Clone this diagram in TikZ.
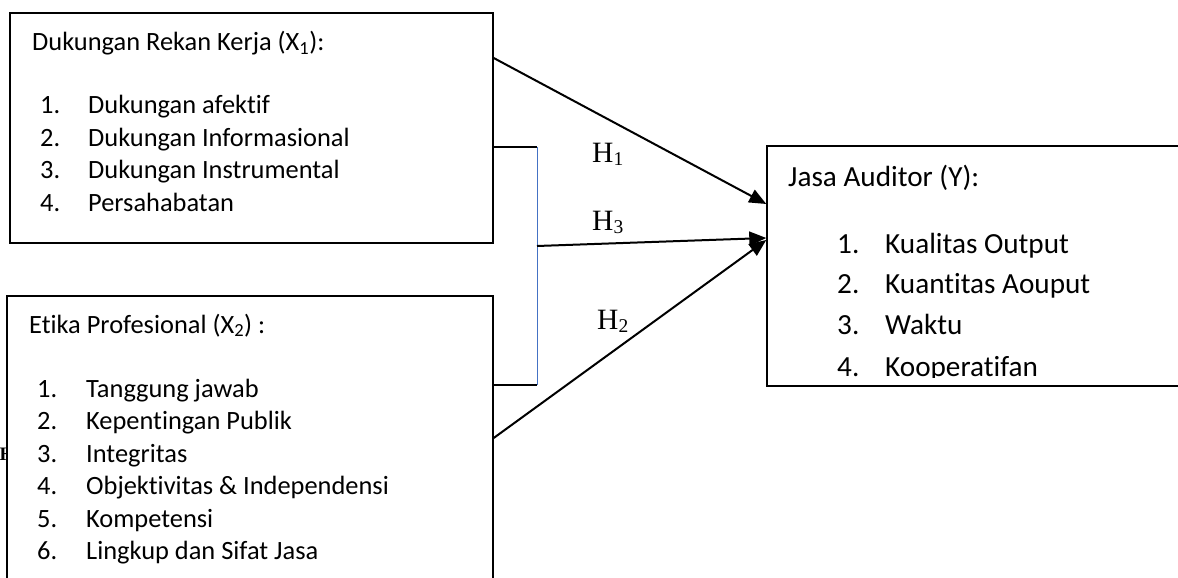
\documentclass[tikz,border=0pt]{standalone}
\usepackage{fontspec}
\setmainfont[Ligatures=NoCommon]{Carlito}
\newfontfamily\timesf{Liberation Serif}
\usetikzlibrary{arrows.meta}
\definecolor{wordblue}{RGB}{68,114,196}
\newcommand{\lsize}{\fontsize{26.4}{31}\selectfont}
\newcommand{\rsize}{\fontsize{29.2}{34}\selectfont}
\newcommand{\hlab}[1]{\timesf\fontsize{29.5}{30}\selectfont H\raisebox{-3.5pt}{\fontsize{19.5}{19}\selectfont #1}}
\tikzset{
  boxst/.style={draw=black, line width=1.4pt, fill=white, rectangle, inner sep=0pt},
  ltxt/.style={anchor=base west, inner sep=0pt, font=\lsize},
  rtxt/.style={anchor=base west, inner sep=0pt, font=\rsize},
  htxt/.style={anchor=base west, inner sep=0pt},
  arr/.style={line width=2pt, -{Triangle[length=17pt,width=14pt]}},
  brk/.style={line width=1.4pt, black},
}
\begin{document}
\begin{tikzpicture}[x=1pt,y=-1pt]
\useasboundingbox (0,0) rectangle (1178,578);
\fill[white] (0,0) rectangle (1178,578);

% stray fragment at left edge
\node[htxt, font=\timesf\bfseries\fontsize{19}{19}\selectfont] (frag) at (-0.5,460) {H};

% boxes
\node[boxst, minimum width=483pt, minimum height=230pt] (box1) at (251.5,128) {};
\node[boxst, minimum width=486pt, minimum height=320pt] (box2) at (250,456) {};
\node[boxst, fill=none, minimum width=440pt, minimum height=240pt] (boxY) at (987,266) {};

% box 1 text
\node[ltxt] (t1) at (32,51) {Dukungan Rekan Kerja (X\textsubscript{1}):};
\node[ltxt] (n11) at (40,113) {1.};
\node[ltxt] (i11) at (88,113) {Dukungan afektif};
\node[ltxt] (n12) at (40,146) {2.};
\node[ltxt] (i12) at (88,146) {Dukungan Informasional};
\node[ltxt] (n13) at (40,178) {3.};
\node[ltxt] (i13) at (88,178) {Dukungan Instrumental};
\node[ltxt] (n14) at (40,211) {4.};
\node[ltxt] (i14) at (88,211) {Persahabatan};

% box 2 text
\node[ltxt] (t2) at (29,333) {Etika Profesional (X\textsubscript{2}) :};
\node[ltxt] (n21) at (37,397) {1.};
\node[ltxt] (i21) at (86,397) {Tanggung jawab};
\node[ltxt] (n22) at (37,429.5) {2.};
\node[ltxt] (i22) at (86,429.5) {Kepentingan Publik};
\node[ltxt] (n23) at (37,462) {3.};
\node[ltxt] (i23) at (86,462) {Integritas};
\node[ltxt] (n24) at (37,494.5) {4.};
\node[ltxt] (i24) at (86,494.5) {Objektivitas \& Independensi};
\node[ltxt] (n25) at (37,527) {5.};
\node[ltxt] (i25) at (86,527) {Kompetensi};
\node[ltxt] (n26) at (37,559.5) {6.};
\node[ltxt] (i26) at (86,559.5) {Lingkup dan Sifat Jasa};

% box Y text
\node[rtxt] (t3) at (788,186) {Jasa Auditor (Y):};
\node[rtxt] (n31) at (837,253) {1.};
\node[rtxt] (i31) at (885,253) {Kualitas Output};
\node[rtxt] (n32) at (837,293.5) {2.};
\node[rtxt] (i32) at (885,293.5) {Kuantitas Aouput};
\node[rtxt] (n33) at (837,334.5) {3.};
\node[rtxt] (i33) at (885,334.5) {Waktu};
\node[rtxt] (n34) at (837,376) {4.};
\node[rtxt] (i34) at (885,376) {Kooperatifan};
\fill[white] (768,377.6) rectangle (1178,385.2);

% bracket joining the two boxes
\coordinate (bt) at (537,147);
\coordinate (bb) at (537,385);
\draw[brk] (box1.east |- bt) -- (bt);
\draw[brk] (box2.east |- bb) -- (bb);
\draw[wordblue, line width=1pt] (bt) -- (bb);
\coordinate (bm) at (537,246);

% arrows
\draw[arr] (box1.east |- 0,58) -- (boxY.west |- 0,204);
\draw[arr] (bm) -- (boxY.west |- 0,238);
\draw[arr] (box2.east |- 0,438) -- (boxY.west |- 0,240);

% hypothesis labels
\node[htxt] (h1) at (592,162) {\hlab{1}};
\node[htxt] (h3) at (592,230) {\hlab{3}};
\node[htxt] (h2) at (597,329) {\hlab{2}};
\end{tikzpicture}
\end{document}
